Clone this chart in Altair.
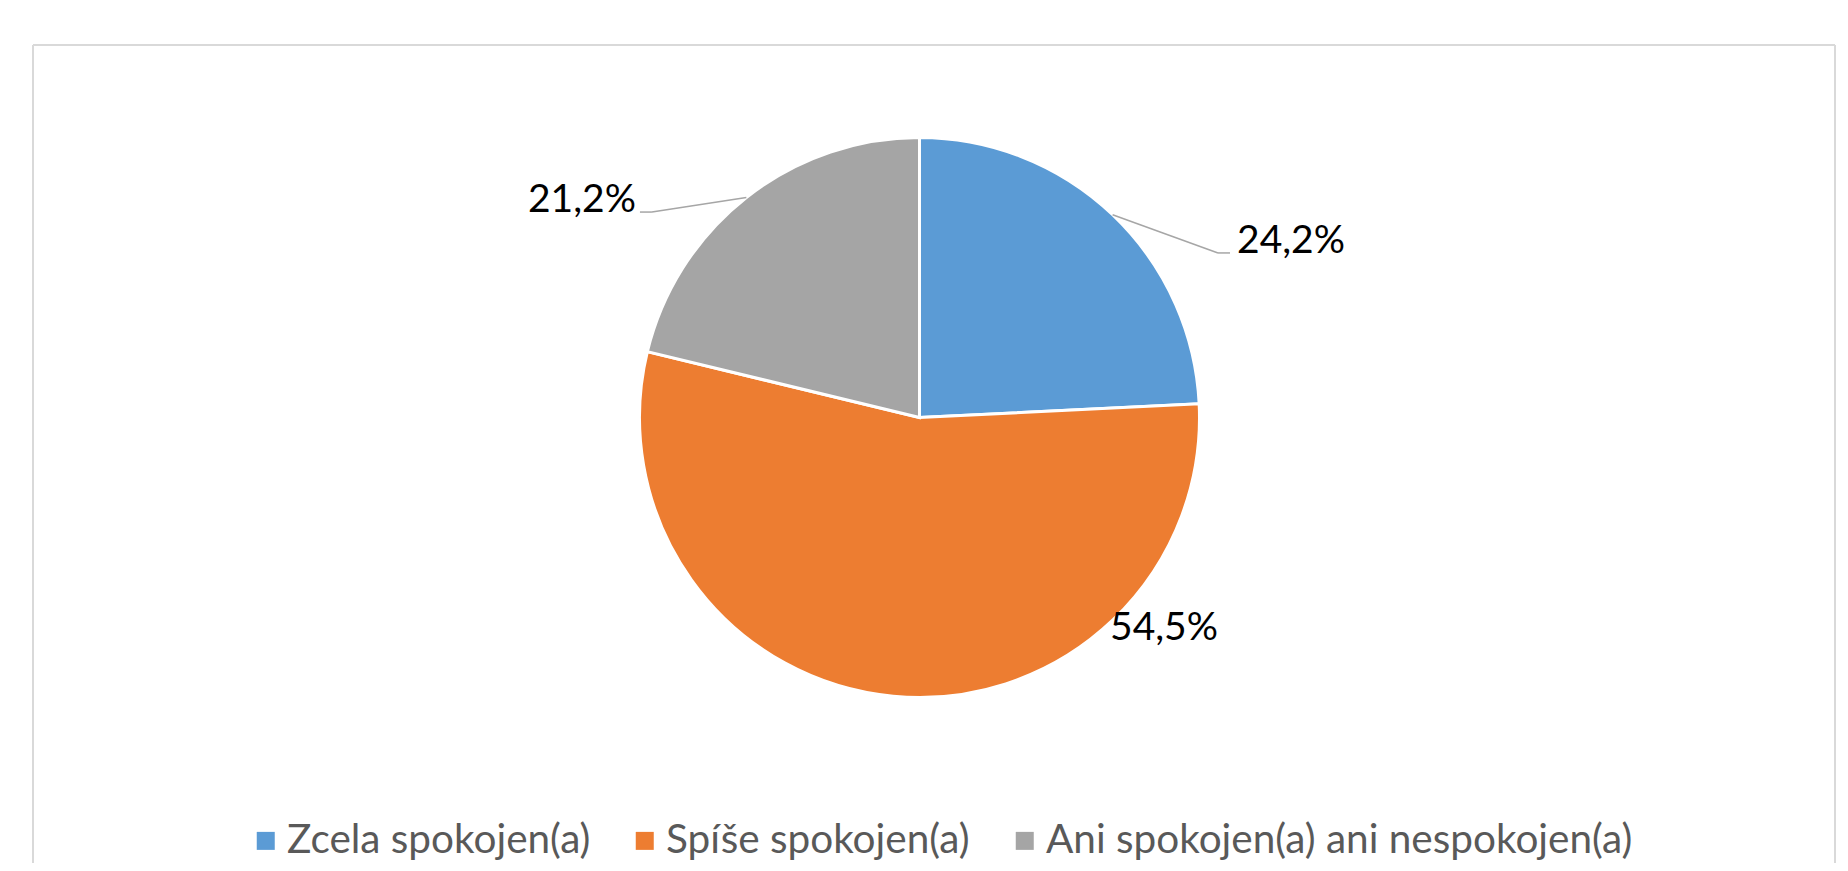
import altair as alt
import pandas as pd

# ---- data ----
categories = ["Zcela spokojen(a)", "Spíše spokojen(a)", "Ani spokojen(a) ani nespokojen(a)"]
shares = [24.2, 54.5, 21.2]
labels = ["24,2%", "54,5%", "21,2%"]
slice_order = [0, 1, 2]
colors = ["#5B9BD5", "#ED7D31", "#A5A5A5"]

df = pd.DataFrame({"category": categories, "share": shares, "label": labels, "order": slice_order})

# ---- layout (chart pixel space) ----
W, H = 1832, 855
CX, CY, R = 911.5, 409.5, 280
FONT = "Lato"
LEADER = "#A6A6A6"
FRAME = "#D9D9D9"

base = (
    alt.Chart(df)
    .transform_joinaggregate(total="sum(share)")
    .transform_window(cum="sum(share)", sort=[alt.SortField("order")], frame=[None, 0])
    .transform_calculate(
        mid="2*PI*(datum.cum - datum.share/2)/datum.total",
    )
    .transform_calculate(
        ex=f"{CX} + {R}*sin(datum.mid)",
        ey=f"{CY} - {R}*cos(datum.mid)",
    )
)

pie = alt.Chart(df).mark_arc(radius=R, stroke="white", strokeWidth=3).encode(
    theta=alt.Theta("share:Q", stack=True),
    color=alt.Color(
        "category:N",
        scale=alt.Scale(domain=categories, range=colors),
        legend=alt.Legend(
            title=None,
            orient="none",
            legendX=237.5,
            legendY=812.5,
            direction="horizontal",
            symbolType="square",
            symbolSize=324,
            symbolStrokeWidth=0,
            labelFont=FONT,
            labelFontSize=40.5,
            labelColor="#595959",
            labelOffset=1,
            columnPadding=34,
            labelLimit=0,
        ),
    ),
    order=alt.Order("order:Q"),
    x=alt.value(CX),
    y=alt.value(CY),
)


def label_layer(cat, dx, dy, align):
    return (
        base.transform_filter(alt.datum.category == cat)
        .mark_text(align=align, baseline="alphabetic", dx=dx, dy=dy, font=FONT, fontSize=39, color="#000000")
        .encode(
            x=alt.X("ex:Q", scale=None, axis=None),
            y=alt.Y("ey:Q", scale=None, axis=None),
            text="label:N",
        )
    )


def leader_layers(cat, ox, oy, ox2):
    b = base.transform_filter(alt.datum.category == cat).transform_calculate(
        x1=f"datum.ex + {ox}",
        y1=f"datum.ey + {oy}",
        x2e=f"datum.ex + {ox2}",
    )
    seg1 = b.mark_rule(color=LEADER, strokeWidth=1.5).encode(
        x=alt.X("ex:Q", scale=None, axis=None),
        y=alt.Y("ey:Q", scale=None, axis=None),
        x2="x1:Q",
        y2="y1:Q",
    )
    seg2 = b.mark_rule(color=LEADER, strokeWidth=1.5).encode(
        x=alt.X("x1:Q", scale=None, axis=None),
        y=alt.Y("y1:Q", scale=None, axis=None),
        x2="x2e:Q",
    )
    return [seg1, seg2]


frame_src = alt.Chart(pd.DataFrame({"k": [0]}))
frame_left = frame_src.mark_rule(color=FRAME, strokeWidth=2).encode(
    x=alt.value(25), y=alt.value(37), y2=alt.value(H)
)
frame_top = frame_src.mark_rule(color=FRAME, strokeWidth=2).encode(
    x=alt.value(25), x2=alt.value(1827), y=alt.value(37)
)
frame_right = frame_src.mark_rule(color=FRAME, strokeWidth=2).encode(
    x=alt.value(1827), y=alt.value(37), y2=alt.value(H)
)

layers = [frame_left, frame_top, frame_right, pie]
layers += leader_layers(categories[0], 105.4, 38.2, 117.4)
layers += leader_layers(categories[2], -94.4, 14.6, -106.4)
layers += [
    label_layer(categories[0], 124.4, 38.2, "left"),
    label_layer(categories[1], 216.9, -56.3, "left"),
    label_layer(categories[2], -110.4, 14.6, "right"),
]

chart = (
    alt.layer(*layers)
    .properties(width=W, height=H, autosize=alt.AutoSizeParams(type="none"), padding=0)
    .configure_view(stroke=None)
)

chart.save("out.html", embed_options={"renderer": "svg", "actions": False})
